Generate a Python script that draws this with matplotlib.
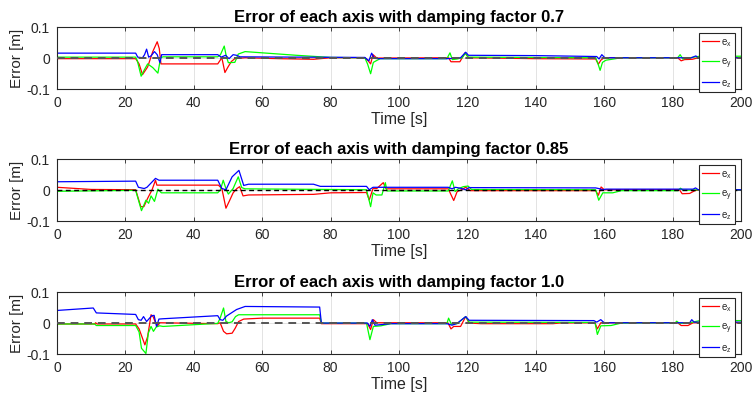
import matplotlib.pyplot as plt

plt.rcParams['font.family'] = ['Liberation Sans', 'DejaVu Sans']

# (time [s], error [m]) breakpoints
ex_07 = [(0, -0.003), (23, -0.003), (24, -0.02), (25, -0.055), (26.5, -0.03), (28, 0.02),
         (29.3, 0.052), (29.9, 0.03), (30.4, -0.02), (47, -0.02), (48.2, 0.0), (49.1, -0.048),
         (50, -0.03), (51, -0.012), (52, -0.003), (55, 0.0), (65, -0.003), (75, -0.005), (80, 0.0),
         (90, 0.0), (91, -0.01), (91.7, -0.02), (92.4, 0.01), (93.5, -0.001), (114.5, 0.0),
         (115.2, -0.013), (117.8, -0.013), (119.3, 0.016), (120.3, 0.0), (140, -0.003),
         (157.5, -0.004), (158.3, -0.021), (159, -0.008), (160, 0.0), (181.5, 0.0), (182.5, -0.01),
         (183.5, -0.006), (185.8, -0.005), (187.5, 0.0), (200, 0.0)]
ey_07 = [(0, 0.002), (23, 0.002), (23.5, -0.01), (24.6, -0.06), (25.5, -0.04), (26.5, -0.02),
         (28, -0.032), (29.5, -0.05), (30.3, 0.0), (31, 0.003), (47, 0.003), (47.8, 0.01),
         (48.9, 0.038), (49.5, 0.005), (50.1, -0.016), (52, -0.015), (53, 0.012), (55, 0.02),
         (60, 0.016), (70, 0.008), (80, 0.001), (90, 0.0), (90.8, -0.02), (91.7, -0.052),
         (92.5, -0.015), (93.3, -0.01), (94.5, -0.003), (114, -0.003), (114.9, 0.016),
         (115.6, -0.006), (117, -0.004), (118.5, 0.0), (119.4, 0.015), (120.2, 0.002),
         (157.5, 0.0), (158.2, -0.02), (158.8, -0.041), (159.5, -0.015), (160.5, -0.008),
         (165, 0.0), (181.5, 0.0), (182.2, 0.01), (183, -0.004), (185, 0.0), (188, 0.005),
         (200, 0.005)]
ez_07 = [(0, 0.015), (23, 0.015), (23.6, 0.002), (25, 0.0), (25.6, 0.01), (26.2, 0.028),
         (26.8, 0.002), (27.5, 0.006), (28.5, 0.02), (29.3, 0.01), (30.1, -0.016), (30.6, 0.01),
         (47, 0.01), (48, 0.002), (49.3, 0.008), (50.3, -0.003), (51.5, 0.01), (52.5, 0.008),
         (53.5, 0.003), (70, 0.002), (90, 0.001), (91.2, -0.01), (92, 0.015), (92.8, -0.002),
         (94, -0.003), (114, -0.003), (116, -0.002), (118, 0.0), (119.5, 0.018), (120.3, 0.008),
         (140, 0.007), (157.8, 0.004), (158.5, -0.004), (159.3, 0.01), (160.2, 0.0),
         (185.5, 0.0), (186.8, 0.006), (187.5, 0.0), (200, 0.0)]

ex_085 = [(0, 0.008), (10, 0.001), (23, 0.0), (24.5, -0.055), (25.4, -0.055), (26.5, -0.028),
          (27.8, 0.0), (28.8, 0.031), (29.2, 0.015), (47.2, 0.015), (48.2, 0.004), (49.4, -0.06),
          (50.6, -0.032), (51.5, -0.01), (52.6, 0.004), (53.4, 0.01), (54.4, -0.02), (56, -0.017),
          (75, -0.015), (80, -0.01), (90.5, -0.009), (91.3, -0.033), (92.4, 0.004), (93.5, 0.004),
          (95.4, 0.023), (96.2, 0.003), (114.4, 0.003), (116, -0.035), (117, -0.006),
          (118.3, 0.0), (119.5, 0.008), (120.5, 0.0), (121, -0.003), (157.5, -0.003),
          (158.3, -0.018), (159.1, 0.009), (160, 0.0), (182, 0.0), (182.8, -0.013),
          (185, -0.012), (186.5, -0.003), (188, 0.0), (200, 0.0)]
ey_085 = [(0, -0.005), (23, -0.002), (24.7, -0.068), (26, -0.034), (26.8, -0.044), (27.5, -0.02),
          (28.5, -0.038), (29.5, 0.002), (30.5, -0.01), (47, -0.01), (47.8, 0.0), (48.6, 0.031),
          (49.5, 0.0), (50.1, -0.014), (51.5, 0.004), (53, 0.042), (54, 0.007), (55, 0.003),
          (90.5, 0.0), (91.7, -0.055), (92.4, -0.01), (93.3, -0.017), (95, -0.017), (96, 0.023),
          (96.5, -0.004), (114.4, -0.004), (115.6, 0.029), (116.4, -0.006), (117.3, 0.003),
          (118.8, 0.01), (120.2, 0.012), (121.2, 0.001), (157.5, 0.0), (158.4, -0.034),
          (159.6, -0.01), (162.5, -0.01), (165, -0.003), (181.5, -0.003), (182.3, 0.005),
          (183.2, -0.002), (188, 0.0), (200, 0.0)]
ez_085 = [(0, 0.026), (23, 0.028), (23.8, 0.008), (25.5, 0.004), (26.3, 0.008), (28.8, 0.037),
          (29.8, 0.031), (47, 0.031), (48.2, 0.004), (49.4, 0.0), (51.2, 0.042), (53.2, 0.063),
          (54.6, 0.014), (56, 0.018), (75, 0.018), (77, 0.011), (90.5, 0.011), (91.3, 0.0),
          (92.4, 0.008), (114.4, 0.008), (115.5, 0.003), (116.5, 0.008), (118, 0.005),
          (119.5, 0.0), (120.5, 0.007), (157.5, 0.006), (158.8, 0.003), (159.5, 0.0),
          (160.5, 0.002), (186, 0.002), (186.7, 0.006), (187.5, 0.0), (200, 0.0)]

ex_10 = [(0, -0.004), (11, -0.004), (11.3, 0.0), (11.7, -0.004), (23, -0.004), (24, -0.02),
         (25.7, -0.072), (26.5, -0.045), (27.5, 0.026), (28.1, 0.02), (28.8, 0.0), (29.4, -0.01),
         (30.1, 0.0), (47, -0.003), (47.7, 0.0), (48.7, -0.028), (49.6, -0.036), (51.2, -0.034),
         (52.1, -0.018), (53.1, 0.004), (54.6, 0.012), (60, 0.015), (76.8, 0.015), (77.3, -0.003),
         (90.8, -0.003), (91.7, -0.022), (92.5, 0.01), (93.5, 0.0), (114.3, 0.0), (115.2, -0.02),
         (116, -0.012), (118, -0.012), (119.5, 0.02), (120.5, -0.001), (124, -0.003),
         (145, -0.003), (147, -0.001), (157.3, 0.0), (158, -0.02), (159, 0.0), (181.5, 0.0),
         (182.5, -0.009), (184.5, -0.009), (186, 0.0), (200, 0.0)]
ey_10 = [(0, -0.004), (11, -0.004), (11.5, -0.009), (23, -0.009), (24, -0.03), (24.7, -0.083),
         (26, -0.1), (26.7, -0.034), (27.5, -0.012), (28.2, -0.028), (29, -0.014), (30, -0.01),
         (31, -0.012), (47, -0.002), (47.7, 0.015), (48.7, 0.048), (49.4, 0.004), (50.2, 0.0),
         (51.2, 0.003), (52.2, 0.02), (53.1, 0.026), (76.8, 0.026), (77.3, -0.001),
         (90.5, -0.001), (91.5, -0.055), (92.5, -0.012), (94.7, -0.01), (97.6, -0.003),
         (114, -0.003), (114.5, 0.015), (115.3, -0.005), (117, -0.003), (119.5, 0.02),
         (120.5, 0.002), (157.3, 0.001), (158, -0.038), (159, -0.01), (162, -0.009),
         (165, -0.001), (180.8, 0.0), (181.2, 0.005), (182, -0.002), (185, 0.0), (188, 0.007),
         (200, 0.007)]
ez_10 = [(0, 0.04), (10.6, 0.048), (11.5, 0.032), (23, 0.027), (23.8, 0.01), (24.6, 0.008),
         (25.3, 0.02), (26.2, 0.004), (27.7, 0.023), (28.4, 0.024), (29.1, -0.012), (29.8, 0.012),
         (31, 0.013), (47, 0.023), (47.7, 0.01), (48.5, 0.008), (49.6, 0.022), (52.5, 0.043),
         (55, 0.053), (76.8, 0.051), (77.3, -0.001), (90.8, -0.001), (91.5, -0.012),
         (92.2, 0.01), (93, -0.008), (97.6, -0.003), (114, -0.003), (115.5, -0.008),
         (117, -0.002), (119.5, 0.02), (120.5, 0.008), (157, 0.007), (157.8, 0.002),
         (159, 0.01), (160, 0.0), (185, 0.0), (185.6, 0.01), (186.3, 0.002), (200, 0.002)]

factors = ['0.7', '0.85', '1.0']
series = [(ex_07, ey_07, ez_07), (ex_085, ey_085, ez_085), (ex_10, ey_10, ez_10)]
labels = [r'$\mathregular{e_x}$', r'$\mathregular{e_y}$', r'$\mathregular{e_z}$']
colors = ['#ff0000', '#00ff00', '#0000ff']
xticks = list(range(0, 201, 20))
yticks = [-0.1, 0, 0.1]
ytick_labels = ['-0.1', '0', '0.1']

dark = '#262626'
fig = plt.figure(figsize=(7.55, 4.02), dpi=100)
tops = [28, 160, 293]
for k in range(3):
    top = tops[k]
    ax = fig.add_axes([57 / 755, 1 - (top + 61.5) / 402, 684 / 755, 61.5 / 402])
    for data, lab, col in zip(series[k], labels, colors):
        t, e = zip(*data)
        ax.plot(t, e, color=col, lw=0.9, label=lab)
    if k == 1:
        ax.plot([0, 200], [0, 0], color='black', lw=1.0, ls=(0, (3.5, 2.5)), zorder=3)
    else:
        ax.plot([0, 200], [0, 0], color='#555555', lw=1.4, ls=(0, (4, 3)), zorder=3)
    ax.set_xlim(0, 200)
    ax.set_ylim(-0.1, 0.1)
    ax.set_xticks(xticks)
    ax.set_yticks(yticks, ytick_labels)
    ax.grid(True, color='#dedede', lw=0.6)
    ax.set_axisbelow(True)
    ax.tick_params(direction='in', length=3, width=0.6, top=True, right=True,
                   colors=dark, labelsize=10, pad=5)
    for s in ax.spines.values():
        s.set_color(dark)
        s.set_linewidth(0.8)
    ax.set_title('Error of each axis with damping factor ' + factors[k],
                 fontsize=12, fontweight='bold', pad=4)
    ax.set_xlabel('Time [s]', fontsize=11.5, color=dark, labelpad=1)
    ax.set_ylabel('Error [m]', fontsize=11, color=dark, labelpad=2)
    leg = ax.legend(loc='upper right', fontsize=7, handlelength=1.7, handletextpad=0.2,
                    labelspacing=0.75, borderpad=0.35, borderaxespad=0.6, fancybox=False,
                    framealpha=1)
    leg.get_frame().set_edgecolor(dark)
    leg.get_frame().set_linewidth(0.8)
    for txt in leg.get_texts():
        txt.set_color(dark)

fig.savefig('out.png', dpi=100)
